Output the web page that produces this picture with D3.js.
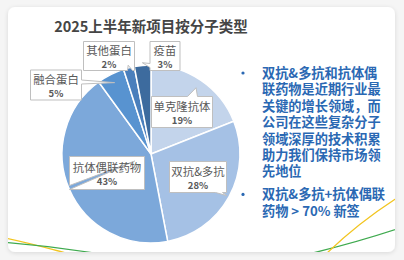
<!DOCTYPE html>
<html>
<head>
<meta charset="utf-8">
<script src="https://cdn.jsdelivr.net/npm/d3@7"></script>
<style>
  body { margin: 0; background: #f4f4f4; }
  svg { display: block; font-family: "Noto Sans CJK SC", "Noto Sans", sans-serif; }
</style>
</head>
<body>
<svg id="chart" width="404" height="260"></svg>
<script>
// chart data
const categories = ["单克隆抗体", "双抗&多抗", "抗体偶联药物", "融合蛋白", "其他蛋白", "疫苗"];
const shares = [19, 28, 43, 5, 2, 3];
const colors = ["#c3d4eb", "#a5c1e5", "#7ca8da", "#5893d0", "#4a7fbc", "#3d6b9e"];
const title = "2025上半年新项目按分子类型";
const bullets = [
    ["双抗&多抗和抗体偶", "联药物是近期行业最", "关键的增长领域，而", "公司在这些复杂分子", "领域深厚的技术积累", "助力我们保持市场领", "先地位"],
    ["双抗&多抗+抗体偶联", "药物 > 70% 新签"]
];

// callout shape: box size, which edge carries the wedge, wedge base, tip radius (fraction of R)
const callouts = {
    "单克隆抗体": {w: 61, h: 31, side: "top", a: 36, b: 46, tipR: 0.9},
    "双抗&多抗": {w: 57, h: 31, side: "bottom", a: 46, b: 53, tipR: 0.97},
    "抗体偶联药物": {w: 75, h: 33, side: "left", a: 29, b: 33, tipR: 0.2},
    "融合蛋白": {w: 51, h: 30, side: "right", a: 10, b: 14, tipR: 0.9},
    "其他蛋白": {w: 51, h: 29, side: "bottom", a: 44, b: 49, tipR: 1.03},
    "疫苗": {w: 30, h: 29, side: "left", a: 22, b: 26, tipR: 1.03}
};
// label box centres (annotation layout, as placed in the source slide)
const boxCenters = {
    "单克隆抗体": [182, 112], "双抗&多抗": [198, 177], "抗体偶联药物": [107, 173],
    "融合蛋白": [56, 85], "其他蛋白": [109, 56], "疫苗": [165, 56]
};

const svg = d3.select("#chart");
const W = 404, H = 260;

const defs = svg.append("defs");
const f = defs.append("filter").attr("id", "sh").attr("x", "-5%").attr("y", "-5%").attr("width", "110%").attr("height", "115%");
f.append("feDropShadow").attr("dx", 0).attr("dy", 1).attr("stdDeviation", 2).attr("flood-color", "#000").attr("flood-opacity", 0.12);
defs.append("clipPath").attr("id", "cardclip")
    .append("rect").attr("x", 8).attr("y", 7).attr("width", 387).attr("height", 245).attr("rx", 7);

svg.append("rect").attr("width", W).attr("height", H).attr("fill", "#f5f5f5");
svg.append("rect").attr("x", 8).attr("y", 7).attr("width", 387).attr("height", 245).attr("rx", 7)
    .attr("fill", "#fff").attr("filter", "url(#sh)");

// decorative background strokes at bottom of card
const deco = svg.append("g").attr("clip-path", "url(#cardclip)").attr("fill", "none").attr("stroke-width", 1.3);
deco.append("path").attr("d", "M0,237 C30,243 50,249 70,254").attr("stroke", "#f2c521");
deco.append("path").attr("d", "M0,242 C40,245 70,249 100,254").attr("stroke", "#3faa4f");
deco.append("path").attr("d", "M300,256 C330,249 370,238 400,228").attr("stroke", "#3faa4f");
deco.append("path").attr("d", "M322,258 C345,235 370,215 400,196").attr("stroke", "#f2c521");

// title
svg.append("text").attr("x", 151).attr("y", 32).attr("text-anchor", "middle")
    .attr("font-size", 14.5).attr("font-weight", "bold").attr("fill", "#454545").text(title);

// pie
const cx = 151, cy = 154, R = 89;
const pie = d3.pie().sort(null).value(d => d)(shares);
const arc = d3.arc().innerRadius(0).outerRadius(R);
const g = svg.append("g").attr("transform", `translate(${cx},${cy})`);
g.selectAll("path.slice").data(pie).join("path").attr("class", "slice")
    .attr("d", arc).attr("fill", (d, i) => colors[i])
    .attr("stroke", "#fff").attr("stroke-width", 1.5);

// callout labels
function calloutPath(x, y, w, h, c, tx, ty) {
    const p = [];
    p.push([x, y]);
    if (c.side === "top") { p.push([x + c.a, y], [tx, ty], [x + c.b, y]); }
    p.push([x + w, y]);
    if (c.side === "right") { p.push([x + w, y + c.a], [tx, ty], [x + w, y + c.b]); }
    p.push([x + w, y + h]);
    if (c.side === "bottom") { p.push([x + c.b, y + h], [tx, ty], [x + c.a, y + h]); }
    p.push([x, y + h]);
    if (c.side === "left") { p.push([x, y + c.b], [tx, ty], [x, y + c.a]); }
    return "M" + p.map(q => q.join(",")).join("L") + "Z";
}

pie.forEach((d, i) => {
    const name = categories[i];
    const c = callouts[name];
    const mid = (d.startAngle + d.endAngle) / 2;
    const tx = cx + Math.sin(mid) * R * c.tipR;
    const ty = cy - Math.cos(mid) * R * c.tipR;
    const [bx, by] = boxCenters[name];
    const x = bx - c.w / 2, y = by - c.h / 2;
    svg.append("path").attr("d", calloutPath(x, y, c.w, c.h, c, tx, ty))
        .attr("fill", "#fff").attr("stroke", "#bfbfbf").attr("stroke-width", 1);
    svg.append("text").attr("x", bx).attr("y", by - 1).attr("text-anchor", "middle")
        .attr("font-size", 11.4).attr("fill", "#595959").text(name);
    svg.append("text").attr("x", bx).attr("y", by + 12).attr("text-anchor", "middle")
        .attr("font-size", 9.5).attr("font-weight", "bold").attr("fill", "#595959").text(shares[i] + "%");
});

// right-hand commentary, one text block per bullet
const tg = svg.append("g").attr("fill", "#2a68b3").attr("font-weight", "bold").attr("font-size", 13.2);
let ly = 78;
bullets.forEach(lines => {
    tg.append("circle").attr("cx", 243).attr("cy", ly - 5).attr("r", 1.6);
    const t = tg.append("text").attr("x", 262).attr("y", ly);
    lines.forEach((s, j) => {
        t.append("tspan").attr("x", 262).attr("dy", j === 0 ? 0 : 16.4).text(s);
    });
    ly += lines.length * 16.4 + 6.6;
});
</script>
</body>
</html>
